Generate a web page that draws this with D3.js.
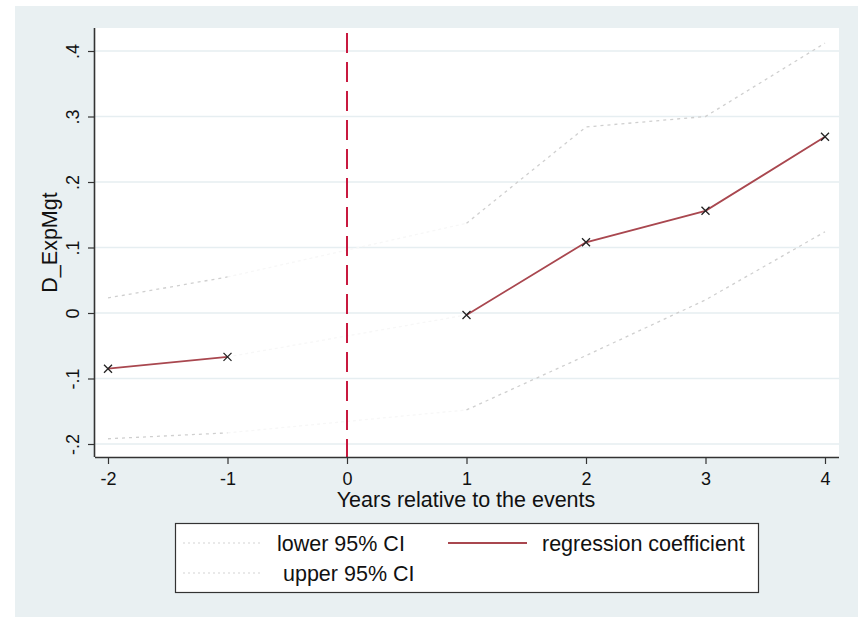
<!DOCTYPE html>
<html>
<head>
<meta charset="utf-8">
<script src="https://cdn.jsdelivr.net/npm/d3@7"></script>
<style>
  body { margin: 0; background: #fff; }
  svg { display: block; font-family: "Liberation Sans", Arial, sans-serif; }
</style>
</head>
<body>
<div id="chart"></div>
<script>
// event-study estimates
const years = [-2, -1, 1, 2, 3, 4];
const coef = [-0.085, -0.067, -0.003, 0.108, 0.156, 0.269];
const lower = [-0.192, -0.183, -0.148, -0.065, 0.020, 0.124];
const upper = [0.023, 0.055, 0.137, 0.284, 0.300, 0.412];
const xTicks = [-2, -1, 0, 1, 2, 3, 4];
const yTicks = [-0.2, -0.1, 0, 0.1, 0.2, 0.3, 0.4];
const yTickLabels = ["-.2", "-.1", "0", ".1", ".2", ".3", ".4"];
const eventYear = 0;

const width = 858, height = 618;
const plot = { left: 95, right: 839, top: 28, bottom: 457 };

const svg = d3.select("#chart").append("svg")
    .attr("width", width)
    .attr("height", height);

// outer graph region
svg.append("rect")
    .attr("x", 15).attr("y", 6)
    .attr("width", width - 15).attr("height", 611)
    .attr("fill", "#e9f0f2");

svg.append("rect")
    .attr("x", plot.left).attr("y", plot.top)
    .attr("width", plot.right - plot.left).attr("height", plot.bottom - plot.top)
    .attr("fill", "#fff");

const x = d3.scaleLinear().domain([-2, 4]).range([108, 825]);
const y = d3.scaleLinear().domain([-0.2, 0.4]).range([444, 51]);

// gridlines
svg.append("g")
    .selectAll("line")
    .data(yTicks)
    .join("line")
    .attr("x1", plot.left).attr("x2", plot.right)
    .attr("y1", d => y(d)).attr("y2", d => y(d))
    .attr("stroke", "#e6eef1")
    .attr("stroke-width", 1.5);

// split series at the event year
const pts = arr => years.map((yr, i) => ({ yr, v: arr[i] }));
const before = arr => pts(arr).filter(d => d.yr < eventYear);
const after = arr => pts(arr).filter(d => d.yr > eventYear);
const bridge = arr => [before(arr).slice(-1)[0], after(arr)[0]];

const line = d3.line().x(d => x(d.yr)).y(d => y(d.v));

// barely visible bridges over the gap
[lower, upper, coef].forEach(arr => {
    svg.append("path")
        .attr("d", line(bridge(arr)))
        .attr("fill", "none")
        .attr("stroke", "#f7f7f7")
        .attr("stroke-width", 1.3)
        .attr("stroke-dasharray", "3,3");
});

// confidence bounds
[lower, upper].forEach(arr => {
    [before(arr), after(arr)].forEach(seg => {
        svg.append("path")
            .attr("d", line(seg))
            .attr("fill", "none")
            .attr("stroke", "#cfcfcf")
            .attr("stroke-width", 1.3)
            .attr("stroke-dasharray", "3,4");
    });
});

// coefficient line
[before(coef), after(coef)].forEach(seg => {
    svg.append("path")
        .attr("d", line(seg))
        .attr("fill", "none")
        .attr("stroke", "#a9474f")
        .attr("stroke-width", 1.8);
});

// x markers
const m = 4;
svg.append("g")
    .selectAll("path")
    .data(pts(coef))
    .join("path")
    .attr("d", d => {
        const cx = x(d.yr), cy = y(d.v);
        return `M${cx - m},${cy - m}L${cx + m},${cy + m}M${cx - m},${cy + m}L${cx + m},${cy - m}`;
    })
    .attr("stroke", "#222")
    .attr("stroke-width", 1.3);

// event line
svg.append("line")
    .attr("x1", x(eventYear)).attr("x2", x(eventYear))
    .attr("y1", 33).attr("y2", plot.bottom)
    .attr("stroke", "#c8193f")
    .attr("stroke-width", 2)
    .attr("stroke-dasharray", "20,9");

// axes
const xAxis = d3.axisBottom(x).tickValues(xTicks).tickSize(7).tickPadding(8)
    .tickFormat(d => String(d));
const gx = svg.append("g")
    .attr("transform", `translate(0,${plot.bottom})`)
    .call(xAxis);
gx.select(".domain").attr("d", `M${plot.left},0.5H${plot.right}`);

const yAxis = d3.axisLeft(y).tickValues(yTicks).tickSize(7)
    .tickFormat((d, i) => yTickLabels[i]);
const gy = svg.append("g")
    .attr("transform", `translate(${plot.left},0)`)
    .call(yAxis);
gy.select(".domain").attr("d", `M-0.5,${plot.top}V${plot.bottom}`);
gy.selectAll(".tick text")
    .attr("x", 0).attr("dy", 0)
    .attr("text-anchor", "middle")
    .attr("transform", "translate(-16,0) rotate(-90)");

svg.selectAll(".domain").attr("stroke", "#333").attr("stroke-width", 1.6);
svg.selectAll(".tick line").attr("stroke", "#333").attr("stroke-width", 1.2);
svg.selectAll(".tick text")
    .attr("fill", "#111")
    .style("font-size", "18px")
    .style("font-family", "'Liberation Sans', Arial, sans-serif");

// axis titles
svg.append("text")
    .attr("x", 466).attr("y", 507)
    .attr("text-anchor", "middle")
    .attr("fill", "#111")
    .style("font-size", "21.5px")
    .text("Years relative to the events");

svg.append("text")
    .attr("transform", `translate(57,${(plot.top + plot.bottom) / 2}) rotate(-90)`)
    .attr("text-anchor", "middle")
    .attr("fill", "#111")
    .style("font-size", "21.5px")
    .text("D_ExpMgt");

// legend
const legend = svg.append("g");
legend.append("rect")
    .attr("x", 175.5).attr("y", 523.5)
    .attr("width", 583).attr("height", 69)
    .attr("fill", "#fff")
    .attr("stroke", "#333")
    .attr("stroke-width", 1.2);

const legendItems = [
    { label: "lower 95% CI", lx: 183, tx: 277, ly: 543, kind: "ci" },
    { label: "upper 95% CI", lx: 183, tx: 283, ly: 573, kind: "ci" },
    { label: "regression coefficient", lx: 448, tx: 542, ly: 543, kind: "coef" }
];

legendItems.forEach(d => {
    legend.append("line")
        .attr("x1", d.lx).attr("x2", d.lx + 79)
        .attr("y1", d.ly).attr("y2", d.ly)
        .attr("stroke", d.kind === "coef" ? "#a9474f" : "#d4d4d4")
        .attr("stroke-width", d.kind === "coef" ? 1.8 : 1.2)
        .attr("stroke-dasharray", d.kind === "coef" ? null : "2,3");
    legend.append("text")
        .attr("x", d.tx).attr("y", d.ly + 7.5)
        .attr("fill", "#111")
        .style("font-size", "21.5px")
        .text(d.label);
});
</script>
</body>
</html>
